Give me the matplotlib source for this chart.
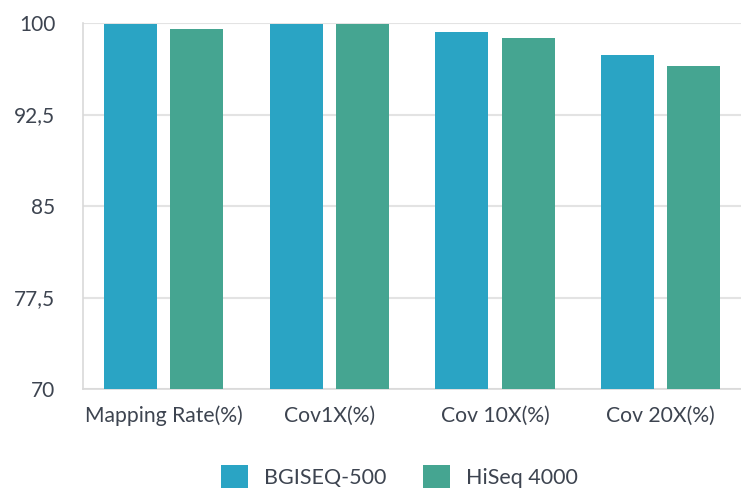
import matplotlib
matplotlib.use("Agg")
import matplotlib.pyplot as plt
import numpy as np
from matplotlib.patches import Patch

categories = ["Mapping Rate(%)", "Cov1X(%)", "Cov 10X(%)", "Cov 20X(%)"]
bgiseq = [99.95, 99.95, 99.25, 97.4]
hiseq = [99.5, 99.95, 98.75, 96.5]
series_names = ["BGISEQ-500", "HiSeq 4000"]
yticks = [70, 77.5, 85, 92.5, 100]
ytick_labels = ["70", "77,5", "85", "92,5", "100"]

blue = "#2AA4C4"
green = "#45A591"
text_color = "#3d4450"

plt.rcParams['font.family'] = ['Lato', 'DejaVu Sans']

fig = plt.figure(figsize=(7.41, 4.90), dpi=100)
ax = fig.add_axes([0.112, 0.206, 0.888, 0.747])

x = np.arange(len(categories))
off = 0.2
w = 0.32
ax.bar(x - off, bgiseq, width=w, color=blue, zorder=3)
ax.bar(x + off, hiseq, width=w, color=green, zorder=3)

ax.set_ylim(70, 100)
ax.set_xlim(-0.486, 3.485)
ax.set_yticks(yticks)
ax.set_yticklabels(ytick_labels, va='center_baseline')
ax.set_xticks(x)
ax.set_xticklabels(categories)
ax.grid(axis='y', color='#e3e3e3', linewidth=1.5, zorder=0)
for s in ['top', 'right']:
    ax.spines[s].set_visible(False)
for s in ['left', 'bottom']:
    ax.spines[s].set_color('#d9d9d9')
    ax.spines[s].set_linewidth(1.2)
ax.tick_params(axis='y', length=0, labelsize=15, colors=text_color, pad=20)
ax.tick_params(axis='x', length=0, labelsize=15.2, colors=text_color, pad=12)

handles = [Patch(facecolor=blue), Patch(facecolor=green)]
fig.legend(handles, series_names, loc='center', bbox_to_anchor=(0.539, 0.027),
           ncol=2, frameon=False, fontsize=15.5, handlelength=1.25, handleheight=1.25,
           columnspacing=1.7, handletextpad=0.75, borderpad=0, labelcolor=text_color)

fig.savefig("out.png", dpi=100)
